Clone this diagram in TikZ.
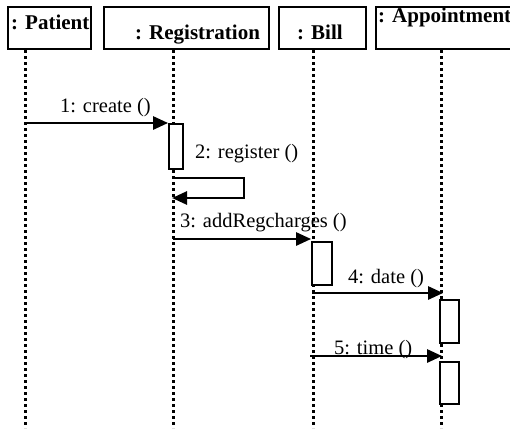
\documentclass[tikz,border=0pt]{standalone}
\usepackage{fontspec}
\setmainfont{Liberation Serif}
\usetikzlibrary{arrows.meta,calc}
\tikzset{
  hbox/.style={draw, line width=2pt, rectangle, inner sep=0pt},
  htext/.style={anchor=base west, inner sep=0pt, font=\fontsize{21}{25}\selectfont\bfseries},
  mtext/.style={anchor=base west, inner sep=0pt, font=\fontsize{20.5}{24}\selectfont},
  life/.style={line width=3pt, dash pattern=on 3pt off 3pt},
  act/.style={draw, line width=1.8pt, fill=white, rectangle, inner sep=0pt},
  msg/.style={line width=2.7pt, -{Triangle[length=15pt,width=13pt]}},
}
\begin{document}
\begin{tikzpicture}[x=1pt,y=-1pt]
\useasboundingbox (0,0) rectangle (510,428);
% header boxes
\node[hbox, minimum width=83pt, minimum height=42pt] (pat) at (49.5,28) {};
\node[hbox, minimum width=165pt, minimum height=42pt] (reg) at (186.5,28) {};
\node[hbox, minimum width=87pt, minimum height=42pt] (bill) at (322.5,28) {};
\node[hbox, minimum width=140pt, minimum height=42pt] (app) at (446,28) {};
\node[htext] (patl) at (11,30) {: Patient};
\node[htext] (regl) at (135,39) {: Registration};
\node[htext] (billl) at (297,39) {: Bill};
\node[htext] (appl) at (378,23) {: Appointment};
% lifeline ends
\coordinate (pe) at (25,428);
\coordinate (re) at (173,428);
\coordinate (be) at (313,428);
\coordinate (ae) at (441,428);
\draw[life] (pat.south -| pe) -- (pe);
\draw[life] (reg.south -| re) -- (re);
\draw[life] (bill.south -| be) -- (be);
\draw[life] (app.south -| ae) -- (ae);
% activation boxes
\node[act, minimum width=14pt, minimum height=45pt] (a1) at (176,146.5) {};
\node[act, minimum width=20pt, minimum height=43pt] (a3) at (322,263.5) {};
\node[act, minimum width=19pt, minimum height=43pt] (a4) at (449.5,321.5) {};
\node[act, minimum width=19pt, minimum height=42pt] (a5) at (449.5,383) {};
% message points
\coordinate (m1s) at (25,123);
\coordinate (m2s) at (173,178);
\coordinate (m2a) at (244,178);
\coordinate (m2b) at (244,198);
\coordinate (m2e) at (172,198);
\coordinate (m3s) at (173,239);
\coordinate (m4s) at (312,293);
\coordinate (m5s) at (310,356);
% messages
\draw[msg] (m1s) -- (a1.north west |- m1s);
\draw[msg] (m2s) -- (m2a) -- (m2b) -- (m2e);
\draw[msg] (m3s) -- (a3.north west |- m3s);
\draw[msg] (m4s) -- ($(a4.north west |- m4s)+(4,0)$);
\draw[msg] (m5s) -- ($(a5.north west |- m5s)+(3,0)$);
% labels
\node[mtext] (l1) at (60,112) {1: create ()};
\node[mtext] (l2) at (195,158) {2: register ()};
\node[mtext] (l3) at (180,227) {3: addRegcharges ()};
\node[mtext] (l4) at (348,283) {4: date ()};
\node[mtext] (l5) at (334,354) {5: time ()};
\end{tikzpicture}
\end{document}
